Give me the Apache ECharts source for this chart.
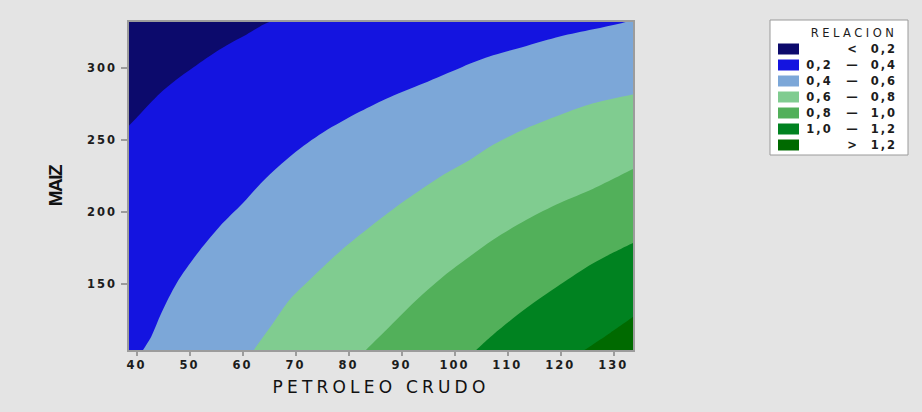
<!DOCTYPE html>
<html>
<head>
<meta charset="utf-8">
<script src="https://cdn.jsdelivr.net/npm/echarts@6/dist/echarts.min.js"></script>
<style>
  html, body { margin: 0; padding: 0; background: #e4e4e4; }
  #chart { width: 922px; height: 412px; }
</style>
</head>
<body>
<div id="chart"></div>
<script>
// Extent of the two factors
const xRange = [38.4, 133.9];   // PETROLEO CRUDO
const yRange = [103.6, 332.3];  // MAIZ

// Tick values
const xTicks = [40, 50, 60, 70, 80, 90, 100, 110, 120, 130];
const yTicks = [150, 200, 250, 300];

// Contour lines of RELACION as [PETROLEO CRUDO, MAIZ] pairs
const edge02 = [[38.4, 259], [40.6, 267.5], [44.4, 282], [47.5, 291.5], [50.7, 300], [55.7, 312.5], [60.8, 323], [66.2, 332.3]];
const edge04 = [[41.1, 103.6], [42.8, 113.7], [44.7, 129.9], [47.6, 150.7], [51.3, 170.3], [55.7, 189.9], [60.1, 206.1], [63.9, 221.5], [69.5, 240], [75.2, 255], [82.2, 269.5], [87.8, 279.5], [94.1, 289], [101.5, 300.5], [107.3, 308.5], [113.6, 315], [119.9, 321.5], [126.2, 326.5], [131.5, 330.8], [133.5, 332.3]];
const edge06 = [[62.0, 103.6], [65.8, 123], [68.9, 139.1], [72.7, 153], [78.4, 172.6], [83.4, 187.6], [89.1, 203.7], [94.1, 216.5], [98.0, 226], [102.9, 236], [107.3, 246.5], [113.6, 258], [119.9, 267.2], [126.2, 275.3], [133.9, 281.6]];
const edge08 = [[83.1, 103.6], [87.8, 120.6], [92.9, 139.1], [97.9, 155.3], [102.9, 169.1], [107.3, 180.7], [113.6, 194.5], [119.9, 206.1], [126.2, 216], [133.9, 230]];
const edge10 = [[103.9, 103.6], [107.3, 114.9], [113.6, 133.4], [119.9, 149.5], [126.2, 164.5], [133.9, 178.8]];
const edge12 = [[124.3, 103.6], [129.4, 116.1], [133.9, 127.6]];

// Legend classes
const bandLow  = ['', '0,2', '0,4', '0,6', '0,8', '1,0', ''];
const bandSign = ['<', '—', '—', '—', '—', '—', '>'];
const bandHigh = ['0,2', '0,4', '0,6', '0,8', '1,0', '1,2', '1,2'];
const bandColors = ['#0c0a6c', '#1414e0', '#7ca7d8', '#80cc90', '#52b05a', '#008220', '#006a00'];

// Each class is filled from its lower contour down to the bottom of the plot;
// the lowest class covers the whole plot.
const topLine = [[xRange[0], yRange[1]], [xRange[1], yRange[1]]];
const bandEdges = [
  topLine,
  edge02.concat([[xRange[1], yRange[1]]]),
  edge04.concat([[xRange[1], yRange[1]]]),
  edge06,
  edge08,
  edge10,
  edge12
];

const bandNames = bandLow.map((lo, i) => (lo ? lo + ' ' : '') + bandSign[i] + ' ' + bandHigh[i]);

const labelFont = 'DejaVu Sans';
const textColor = '#1c1c1c';

const chart = echarts.init(document.getElementById('chart'), null, { renderer: 'svg' });

chart.setOption({
  animation: false,
  backgroundColor: '#e4e4e4',
  title: {
    text: 'RELACION',
    left: 854,
    top: 27,
    padding: 0,
    textAlign: 'center',
    textStyle: { fontFamily: labelFont, fontSize: 11.5, fontWeight: 'normal', color: textColor }
  },
  legend: {
    orient: 'vertical',
    left: 770,
    top: 20,
    padding: [23, 11, 4, 8],
    backgroundColor: '#ffffff',
    borderColor: '#9a9a9a',
    borderWidth: 1,
    borderRadius: 0,
    icon: 'rect',
    itemWidth: 21,
    itemHeight: 11,
    itemGap: 4,
    selectedMode: false,
    data: bandNames,
    formatter: function (name) {
      const i = bandNames.indexOf(name);
      return '{a|' + bandLow[i] + '}{b|' + bandSign[i] + '}{c|' + bandHigh[i] + '}';
    },
    textStyle: {
      fontFamily: labelFont,
      fontSize: 11.5,
      fontWeight: 'bold',
      color: textColor,
      rich: {
        a: { width: 31, align: 'right', lineHeight: 12, fontFamily: labelFont, fontSize: 11.5, fontWeight: 'bold', color: textColor },
        b: { width: 36, align: 'center', lineHeight: 12, fontFamily: labelFont, fontSize: 11.5, fontWeight: 'bold', color: textColor },
        c: { width: 26, align: 'right', lineHeight: 12, fontFamily: labelFont, fontSize: 11.5, fontWeight: 'bold', color: textColor }
      }
    }
  },
  grid: {
    left: 128,
    right: 288,
    top: 21,
    bottom: 61,
    show: true,
    z: 10,
    backgroundColor: 'transparent',
    borderColor: '#9c9c9c',
    borderWidth: 2,
    containLabel: false,
    outerBoundsMode: 'none'
  },
  xAxis: {
    type: 'value',
    min: xRange[0],
    max: xRange[1],
    name: 'PETROLEO CRUDO',
    nameLocation: 'middle',
    nameGap: 27,
    nameTextStyle: { fontFamily: labelFont, fontSize: 17, color: '#111' },
    axisLine: { show: false },
    axisTick: { show: true, customValues: xTicks, length: 5, lineStyle: { color: '#9c9c9c', width: 2 } },
    axisLabel: { customValues: xTicks, margin: 8, fontFamily: labelFont, fontSize: 11.5, fontWeight: 'bold', color: textColor },
    splitLine: { show: false }
  },
  yAxis: {
    type: 'value',
    min: yRange[0],
    max: yRange[1],
    name: 'MAIZ',
    nameLocation: 'middle',
    nameGap: 63,
    nameTextStyle: { fontFamily: 'Liberation Sans', fontSize: 19, fontWeight: 'bold', color: '#111' },
    axisLine: { show: false },
    axisTick: { show: true, customValues: yTicks, length: 7, lineStyle: { color: '#9c9c9c', width: 2 } },
    axisLabel: { customValues: yTicks, margin: 11, fontFamily: labelFont, fontSize: 11.5, fontWeight: 'bold', color: textColor },
    splitLine: { show: false }
  },
  series: bandEdges.map((edge, i) => ({
    type: 'line',
    name: bandNames[i],
    data: edge,
    color: bandColors[i],
    itemStyle: { color: bandColors[i] },
    symbol: 'none',
    smooth: 0.3,
    lineStyle: { width: 0, opacity: 0 },
    areaStyle: { color: bandColors[i], opacity: 1, origin: 'start' },
    clip: true,
    silent: true
  }))
});

// Spaced-out lettering for the chart texts
const letterSpacing = { 'PETROLEO CRUDO': '4.2px', 'RELACION': '3.5px', 'MAIZ': '-1.5px' };
function spaceText() {
  document.querySelectorAll('#chart text').forEach(t => {
    const s = t.textContent;
    t.style.letterSpacing = letterSpacing[s] !== undefined ? letterSpacing[s] : '2px';
  });
}
chart.on('finished', spaceText);
setTimeout(spaceText, 0);
</script>
</body>
</html>
